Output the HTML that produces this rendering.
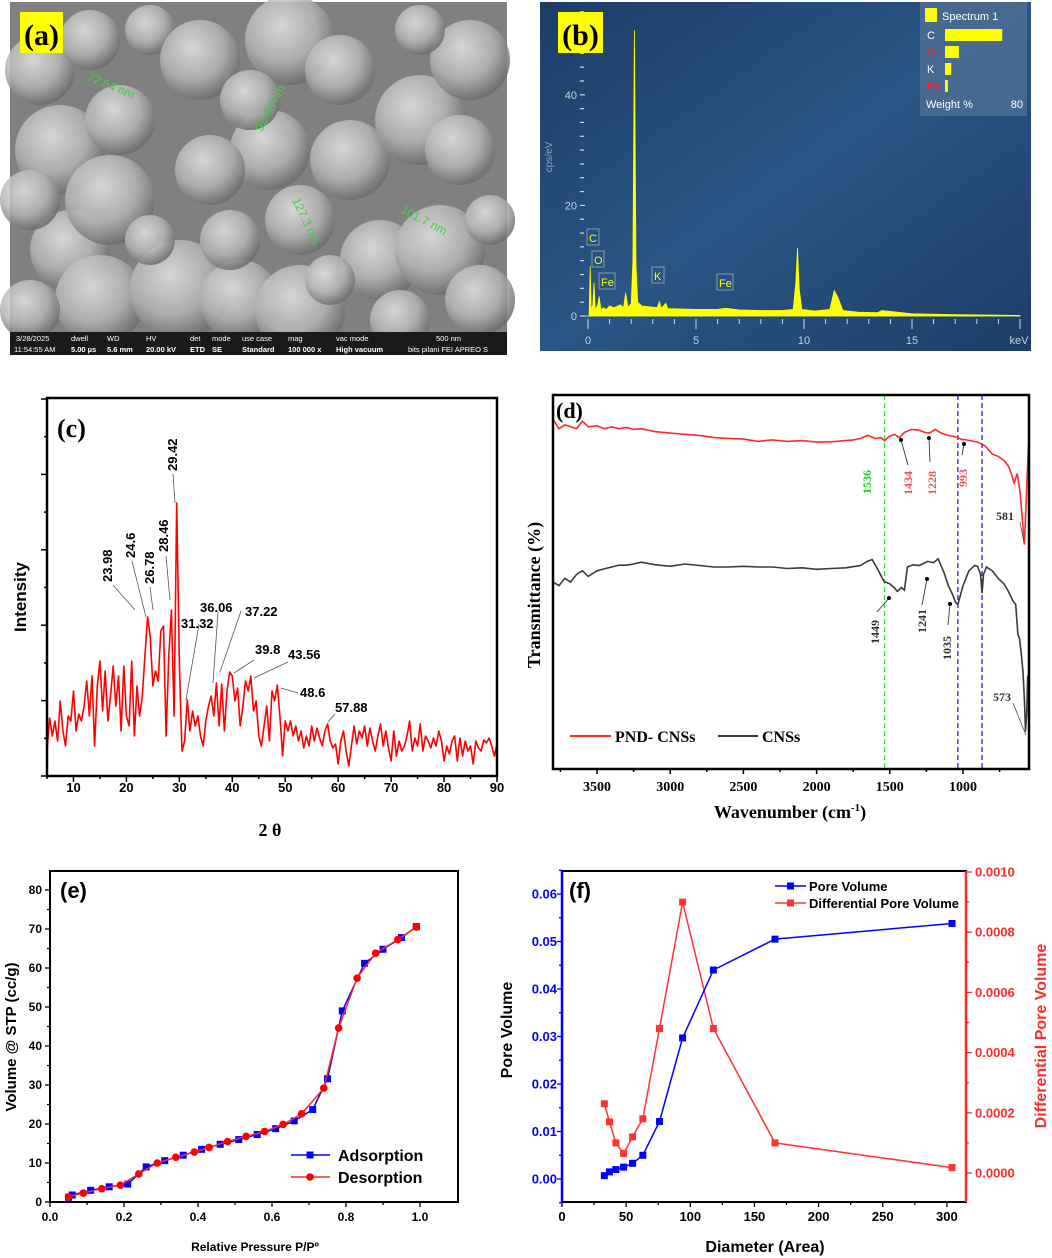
<!DOCTYPE html>
<html><head><meta charset="utf-8"><style>
html,body{margin:0;padding:0;background:#fff;}
svg{display:block;font-family:"Liberation Sans",Arial,sans-serif;}
.tm{font-family:"Liberation Serif","Times New Roman",serif;}
</style></head><body>
<svg id="fig" width="1052" height="1258" viewBox="0 0 1052 1258">
<defs>
<radialGradient id="blob" cx="40%" cy="35%" r="65%"><stop offset="0" stop-color="#e4e4e4"/><stop offset="0.6" stop-color="#b5b5b5"/><stop offset="1" stop-color="#6e6e6e"/></radialGradient>
<linearGradient id="edsbg" x1="0" y1="0" x2="1" y2="1"><stop offset="0" stop-color="#1d3d68"/><stop offset="0.5" stop-color="#2a5584"/><stop offset="1" stop-color="#1d3d68"/></linearGradient>
</defs>
<g id="sem">
<rect x="10" y="2" width="497" height="353" fill="#808080"/>
<g id="semblobs"></g>
<rect x="10" y="332" width="497" height="23" fill="#1a1a1a"/>
<g fill="#fff" font-size="7.5">
<text x="16" y="341">3/28/2025</text><text x="14" y="352">11:54:55 AM</text>
<text x="71" y="341">dwell</text><text x="71" y="352" font-weight="bold">5.00 µs</text>
<text x="107" y="341">WD</text><text x="107" y="352" font-weight="bold">5.6 mm</text>
<text x="146" y="341">HV</text><text x="146" y="352" font-weight="bold">20.00 kV</text>
<text x="190" y="341">det</text><text x="190" y="352" font-weight="bold">ETD</text>
<text x="212" y="341">mode</text><text x="212" y="352" font-weight="bold">SE</text>
<text x="242" y="341">use case</text><text x="242" y="352" font-weight="bold">Standard</text>
<text x="288" y="341">mag</text><text x="288" y="352" font-weight="bold">100 000 x</text>
<text x="336" y="341">vac mode</text><text x="336" y="352" font-weight="bold">High vacuum</text>
<text x="436" y="341">500 nm</text><text x="408" y="352">bits pilani FEI APREO S</text>
</g>
<g fill="#3ed13e" font-size="12">
<text transform="translate(86,80) rotate(22)">72.64 nm</text>
<text transform="translate(262,132) rotate(-62)">92.28 nm</text>
<text transform="translate(292,200) rotate(65)">127.3 nm</text>
<text transform="translate(400,212) rotate(28)">101.7 nm</text>
</g>
<rect x="20" y="12" width="43" height="41" fill="#ffff00"/>
<text x="41.5" y="45" text-anchor="middle" class="tm" font-size="30" font-weight="bold">(a)</text>
</g>
<g id="eds">
<rect x="540" y="2" width="491" height="349" fill="url(#edsbg)"/>
<g id="edsg"></g>
<rect x="558" y="12" width="45" height="41" fill="#ffff00"/>
<text x="580.5" y="45" text-anchor="middle" class="tm" font-size="30" font-weight="bold">(b)</text>
</g>
<g id="xrd"></g>
<g id="ftir"></g>
<g id="bet"></g>
<g id="pore"></g>
</svg>
<script>
// ---------- data ----------
const edsEnergy=[0,0.05,0.1,0.15,0.22,0.28,0.34,0.45,0.52,0.6,0.7,0.85,1.0,1.2,1.5,1.65,1.74,1.85,2.0,2.08,2.15,2.22,2.3,2.5,3.0,3.2,3.3,3.4,3.6,3.7,4.0,5,6,6.4,7,8,9,9.5,9.62,9.7,9.78,9.9,10.5,11.2,11.4,11.55,11.8,12.5,13.4,13.6,15,17,19,20];
const edsCounts=[0,0,9,1,2,6,1,2,3.5,1,1.5,1.2,1.8,1.5,2,1.5,4.2,1.6,2.2,10,51.7,9,2.5,1.8,1.6,1.5,2.6,1.4,2.3,1.3,1.3,1.2,1.2,1.4,1.1,1.0,1.0,1.2,6,12.3,5,1.2,0.9,1.2,4.6,3.5,1.0,0.7,0.6,1.0,0.4,0.25,0.15,0.1];
const edsElements=['C','O','K','Fe'];
const edsWeights=[65,14,5,1];
const edsTickLabels=['0','5','10','15'];

const xrdStart=5, xrdStep=0.5;
const xrdIntensity=[25,58,40,55,35,75,45,30,60,55,85,45,62,55,70,95,60,100,30,90,115,65,105,55,80,110,70,100,45,110,60,50,115,40,90,60,80,120,159,140,90,105,95,145,150,40,120,166,60,273,110,25,35,76,45,65,50,60,40,30,55,70,80,60,93,50,92,45,85,104,100,75,88,50,70,95,85,100,65,75,40,30,50,70,35,85,75,91,60,20,55,45,55,40,50,35,45,28,40,30,50,35,48,38,30,45,52,35,28,32,12,35,45,25,10,30,50,32,45,38,50,30,48,35,25,40,52,30,45,28,15,45,20,35,25,30,40,55,25,38,30,52,25,40,35,28,38,30,45,35,15,30,22,35,40,15,38,20,35,25,30,12,35,28,25,36,33,38,30,20,32];
const xrdTicks=[10,20,30,40,50,60,70,80,90];

const ftirWaveRed=[3800,3760,3720,3680,3640,3600,3560,3500,3450,3400,3350,3300,3250,3200,3100,3000,2900,2800,2700,2600,2500,2400,2350,2300,2200,2100,2000,1900,1800,1750,1700,1650,1600,1560,1536,1500,1470,1434,1400,1350,1300,1260,1228,1190,1150,1100,1050,1000,993,950,900,850,800,760,720,690,670,650,630,610,595,581,570,560,552];
const ftirRed=[93.5,91,92,91.5,91,93,91.5,91.8,91,91.5,91,91.3,90.8,91,90.2,89.8,89.5,89.2,88.6,88.4,88.2,87.6,87.8,88,87.6,87.8,87.4,87.5,87.8,88,88.4,89.2,88.4,88.6,87.8,89,89.5,88.6,90,90.8,90.6,90,89.8,90.8,89.8,89.2,88.8,88,88.1,87.8,87.4,86.4,84.2,83.6,82.5,81,79,76.5,79,74,67,60,70,80,87];
const ftirWaveBlack=[3800,3760,3720,3680,3640,3600,3560,3500,3450,3400,3350,3300,3250,3200,3100,3000,2900,2800,2700,2600,2500,2400,2300,2200,2100,2000,1900,1800,1700,1650,1620,1580,1540,1500,1470,1449,1420,1400,1380,1340,1300,1241,1200,1170,1130,1100,1070,1050,1035,1000,960,920,900,880,870,860,840,800,760,720,690,660,640,625,615,605,590,580,573,565,558];
const ftirBlack=[50,49,51,50,52,53,51.5,53,53.5,54,54.5,54.5,54.8,55.3,54.6,54.2,54.8,54.4,54,54,54.2,54,54,53.6,53.8,53.4,53.6,53.8,54.4,55.6,56,53.2,50.2,49.5,48.5,47.5,48.5,47.8,54,54.6,54.4,55.5,55.2,56.2,52.5,49,46.5,44.5,44,49,53,54.4,54.2,52,47,52,54,53,51,49.5,47.5,45,44,36,35,32,26,18,10,15,25];
const ftirTicks=[3500,3000,2500,2000,1500,1000];
const ftirGuides=[1536,1035,870];

const betAdsX=[0.05,0.06,0.11,0.16,0.21,0.26,0.31,0.36,0.41,0.46,0.51,0.56,0.61,0.66,0.71,0.75,0.79,0.85,0.9,0.95,0.99];
const betAdsY=[1.2,1.8,3,3.9,4.6,9,10.6,12,13.5,14.8,16,17.3,18.8,20.8,23.7,31.6,49,61.2,64.8,67.8,70.6];
const betDesX=[0.05,0.09,0.14,0.19,0.24,0.29,0.34,0.39,0.43,0.48,0.53,0.58,0.63,0.68,0.74,0.78,0.83,0.88,0.94,0.99];
const betDesY=[1.3,2.3,3.4,4.3,7.2,10,11.5,12.8,14,15.5,16.8,18.1,19.9,22.6,29.2,44.6,57.4,63.8,67.3,70.5];
const betXTicks=['0.0','0.2','0.4','0.6','0.8','1.0'];
const betYTicks=[0,10,20,30,40,50,60,70,80];

const poreDiam=[33,37,42,48,55,63,76,94,118,166,304];
const poreVol=[0.0007,0.0015,0.002,0.0025,0.0033,0.005,0.0121,0.0297,0.044,0.0505,0.0538];
const poreDiff=[0.00023,0.00017,0.0001,0.000065,0.00012,0.00018,0.00048,0.0009,0.00048,0.0001,0.000018];
const poreXTicks=[0,50,100,150,200,250,300];
const poreLeftTicks=['0.00','0.01','0.02','0.03','0.04','0.05','0.06'];
const poreRightTicks=['0.0000','0.0002','0.0004','0.0006','0.0008','0.0010'];

// ---------- helpers ----------
const svg=document.getElementById('fig');
const NS=svg.namespaceURI;
function mk(tag,parent,attrs){const e=document.createElementNS(NS,tag);for(const k in attrs)e.setAttribute(k,attrs[k]);parent.appendChild(e);return e;}
function pathFrom(xs,ys,fx,fy){let d='';for(let i=0;i<xs.length;i++){d+=(i?'L':'M')+fx(xs[i]).toFixed(1)+','+fy(ys[i]).toFixed(1);}return d;}

// ---------- SEM blobs (texture) ----------
(function(){
const g=document.getElementById('semblobs');
const blobs=[[40,70,35],[90,40,30],[150,30,25],[200,60,40],[60,150,45],[120,120,35],[70,250,40],[110,200,45],[100,300,45],[180,290,50],[240,300,40],[300,310,45],[290,40,45],[340,70,35],[270,150,40],[210,170,35],[350,160,40],[300,220,35],[230,240,30],[380,260,40],[420,120,45],[460,150,35],[470,60,40],[440,250,45],[480,300,35],[400,320,30],[150,240,25],[330,280,25],[250,100,30],[420,30,25],[490,220,25],[30,310,30],[30,200,30]];
blobs.forEach(b=>{
 const c=mk('circle',g,{cx:b[0],cy:b[1],r:b[2],fill:'url(#blob)','fill-opacity':0.85});
 
 
});
})();

// ---------- EDS ----------
(function(){
const g=document.getElementById('edsg');
const ex=v=>588+v*21.6, ey=v=>316-v*5.53;
const ax=mk('line',g,{x1:581,y1:316,x2:1020,y2:316,stroke:'#aab8cc','stroke-width':1});


for(let i=0;i<=20;i++){const t=mk('line',g,{x1:ex(i),y1:319,x2:ex(i),y2:i%5?324:329,stroke:'#d0d8e4','stroke-width':1});
 
 }
for(let i=0;i<=55;i+=2.5){const y=316-i*5.53;const t=mk('line',g,{x1:580,y1:y,x2:i%20==0?585:584,y2:y,stroke:'#d0d8e4','stroke-width':1.2});
 
 }
edsTickLabels.forEach((l,i)=>{const t=mk('text',g,{x:ex(i*5),y:344,fill:'#c6d0dd','font-size':11,'text-anchor':'middle'});t.textContent=l;
 
 });
const kev=mk('text',g,{x:1019,y:344,fill:'#c6d0dd','font-size':11,'text-anchor':'middle'});kev.textContent='keV';


[[0,'0'],[20,'20'],[40,'40']].forEach(p=>{const t=mk('text',g,{x:577,y:ey(p[0])+4,fill:'#c6d0dd','font-size':11,'text-anchor':'end'});t.textContent=p[1];
 
 });
const yt=mk('text',g,{transform:'translate(552,157) rotate(-90)',fill:'#8fa3bd','font-size':10,'text-anchor':'middle'});yt.textContent='cps/eV';


const sp=mk('path',g,{d:pathFrom(edsEnergy,edsCounts,ex,ey)+'L'+ex(20)+','+ey(0)+'L'+ex(0)+','+ey(0)+'Z',fill:'#ffff00',stroke:'#ffff00','stroke-width':0.8});


[['C',588,242],['O',593,264],['Fe',600,286],['K',653,280],['Fe',718,287]].forEach(p=>{
 const b=mk('rect',g,{x:p[1]-1,y:p[2]-13,width:p[0]=='Fe'?16:12,height:16,fill:'none',stroke:'#8899aa','stroke-width':1});
 
 
 const t=mk('text',g,{x:p[1]+1,y:p[2],fill:'#ffff00','font-size':11});t.textContent=p[0];
 
 });
const lb=mk('rect',g,{x:920,y:2,width:107,height:114,fill:'#4e6d92','fill-opacity':0.85});


const sw=mk('rect',g,{x:925,y:8,width:12,height:14,fill:'#ffff00'});


const st=mk('text',g,{x:942,y:20,fill:'#fff','font-size':11});st.textContent='Spectrum 1';


edsElements.forEach((e,i)=>{
 const y=35+i*17;
 const t=mk('text',g,{x:927,y:y+4,fill:(e=='O'||e=='Fe')?'#ff2020':'#fff','font-size':11});t.textContent=e;
 
 
 const bar=mk('rect',g,{x:945,y:y-6,width:edsWeights[i]*68/80+2,height:12,fill:'#ffff00'});
 
 });
const wt=mk('text',g,{x:926,y:108,fill:'#fff','font-size':11});wt.textContent='Weight %';


const w8=mk('text',g,{x:1023,y:108,fill:'#fff','font-size':11,'text-anchor':'end'});w8.textContent='80';


})();

// ---------- XRD ----------
(function(){
const g=document.getElementById('xrd');
const L=47,R=497,T=398,B=776;
const cx=v=>L+(v-5)*(R-L)/85, cy=v=>B-v;
const xs=xrdIntensity.map((v,i)=>xrdStart+i*xrdStep);
const ln=mk('path',g,{d:pathFrom(xs,xrdIntensity,cx,cy),fill:'none',stroke:'#ff0000','stroke-width':1.6,'stroke-linejoin':'round'});


const fr=mk('rect',g,{x:L,y:T,width:R-L,height:B-T,fill:'none',stroke:'#000','stroke-width':2.5});


for(let v=5;v<=90;v+=5){const t=mk('line',g,{x1:cx(v),y1:B,x2:cx(v),y2:B+(v%10?3:6),stroke:'#000','stroke-width':1.5});
 
 }
for(let i=0;i<=10;i++){const y=B-i*37.7;const t=mk('line',g,{x1:L-(i%2?3:6),y1:y,x2:L,y2:y,stroke:'#000','stroke-width':1.5});
 
 }
xrdTicks.forEach(v=>{const t=mk('text',g,{x:cx(v),y:792,'font-size':13,'font-weight':'bold','text-anchor':'middle'});t.textContent=v;
 
 });
const xt=mk('text',g,{x:270,y:836,'font-size':18,'font-weight':'bold','text-anchor':'middle',class:'tm'});xt.textContent='2 θ';


const yt=mk('text',g,{transform:'translate(26,597) rotate(-90)','font-size':17,'font-weight':'bold','text-anchor':'middle'});yt.textContent='Intensity';


const la=mk('text',g,{x:57,y:437,'font-size':26,'font-weight':'bold',class:'tm'});la.textContent='(c)';


[['23.98',107,582,113,585,135,610],['24.6',130,558,132,561,146,617],['26.78',149,584,150,587,153,610],['28.46',163,552,166,556,170,600],['29.42',172,471,173,474,175,503]].forEach(p=>{
 const t=mk('text',g,{transform:'translate('+(p[1]+5)+','+p[2]+') rotate(-90)','font-size':13,'font-weight':'bold'});t.textContent=p[0];
 
 
 const l=mk('line',g,{x1:p[3],y1:p[4],x2:p[5],y2:p[6],stroke:'#555','stroke-width':0.8});
 
 });
[['31.32',181,628,199,624,186,700],['36.06',200,612,218,612,213,683],['37.22',245,616,241,611,220,672],['39.8',255,654,254,660,234,673],['43.56',288,659,288,662,254,678],['48.6',300,697,298,693,281,688],['57.88',335,712,335,714,328,722]].forEach(p=>{
 const t=mk('text',g,{x:p[1],y:p[2],'font-size':13,'font-weight':'bold'});t.textContent=p[0];
 
 
 const l=mk('line',g,{x1:p[3],y1:p[4],x2:p[5],y2:p[6],stroke:'#555','stroke-width':0.8});
 
 });
})();

// ---------- FTIR ----------
(function(){
const g=document.getElementById('ftir');
const L=553,R=1029,T=395,B=769;
const fx=v=>963+(1000-v)*0.1464, fy=v=>B-v*3.74;
ftirGuides.forEach((w,i)=>{const l=mk('line',g,{x1:fx(w),y1:T,x2:fx(w),y2:B,stroke:i?'#1a1aff':'#33dd33','stroke-width':1.3,'stroke-dasharray':'5,3'});
 
 });
const r=mk('path',g,{d:pathFrom(ftirWaveRed,ftirRed,fx,fy),fill:'none',stroke:'#ff2a2a','stroke-width':1.6});


const k=mk('path',g,{d:pathFrom(ftirWaveBlack,ftirBlack,fx,fy),fill:'none',stroke:'#3a3a3a','stroke-width':1.6});


const fr=mk('rect',g,{x:L,y:T,width:R-L,height:B-T,fill:'none',stroke:'#000','stroke-width':2.5});


for(let w=3750;w>=600;w-=250){const t=mk('line',g,{x1:fx(w),y1:B,x2:fx(w),y2:B+(w%500?3:5),stroke:'#000','stroke-width':1.5});
 
 }
ftirTicks.forEach(w=>{const t=mk('text',g,{x:fx(w),y:791,'font-size':14,'font-weight':'bold','text-anchor':'middle',class:'tm'});t.textContent=w;
 
 });
const xt=mk('text',g,{x:790,y:818,'font-size':18,'font-weight':'bold','text-anchor':'middle',class:'tm'});
xt.innerHTML='Wavenumber (cm<tspan dy="-7" font-size="11">-1</tspan><tspan dy="7">)</tspan>';


const yt=mk('text',g,{transform:'translate(540,595) rotate(-90)','font-size':18,'font-weight':'bold','text-anchor':'middle',class:'tm'});yt.textContent='Transmittance (%)';


const la=mk('text',g,{x:556,y:418,'font-size':22,'font-weight':'bold',class:'tm'});la.textContent='(d)';


[['1536',867,482,'#22cc22'],['1434',908,483,'#ee5555'],['1228',932,483,'#ee5555'],['993',963,478,'#ee5555'],['1449',875,632,'#333'],['1241',922,621,'#333'],['1035',947,648,'#333']].forEach(p=>{
 const t=mk('text',g,{transform:'translate('+(p[1]+4)+','+p[2]+') rotate(-90)','font-size':12,'font-weight':'bold','text-anchor':'middle',fill:p[3],class:'tm'});t.textContent=p[0];
 
 });
[['581',996,520],['573',993,701]].forEach(p=>{const t=mk('text',g,{x:p[1],y:p[2],'font-size':12,'font-weight':'bold',fill:'#333',class:'tm'});t.textContent=p[0];
 
 });
[[908,465,901,440],[930,462,929,438],[962,455,964,444],[877,612,889,598],[922,605,927,579],[948,625,950,604]].forEach(p=>{
 const l=mk('line',g,{x1:p[0],y1:p[1],x2:p[2],y2:p[3],stroke:'#333','stroke-width':0.9});
 
 
 const a=mk('circle',g,{cx:p[2],cy:p[3],r:2,fill:'#000'});
 
 });
[[1020,522,1024,543],[1013,703,1026,735]].forEach(p=>{const l=mk('line',g,{x1:p[0],y1:p[1],x2:p[2],y2:p[3],stroke:'#555','stroke-width':0.8});
 
 });
const l1=mk('line',g,{x1:570,y1:736,x2:611,y2:736,stroke:'#ff2a2a','stroke-width':2});


const t1=mk('text',g,{x:615,y:742,'font-size':16,'font-weight':'bold',class:'tm'});t1.textContent='PND- CNSs';


const l2=mk('line',g,{x1:718,y1:736,x2:758,y2:736,stroke:'#3a3a3a','stroke-width':2});


const t2=mk('text',g,{x:762,y:742,'font-size':16,'font-weight':'bold',class:'tm'});t2.textContent='CNSs';


})();

// ---------- BET ----------
(function(){
const g=document.getElementById('bet');
const L=50,R=458,T=871,B=1202;
const bx=v=>L+v*370, by=v=>B-v*3.9;
const fr=mk('rect',g,{x:L,y:T,width:R-L,height:B-T,fill:'none',stroke:'#000','stroke-width':2});


for(let v=0;v<=1.05;v+=0.1){const t=mk('line',g,{x1:bx(v),y1:B,x2:bx(v),y2:B+(Math.round(v*10)%2?3:5),stroke:'#000','stroke-width':1.3});
 
 }
for(let v=0;v<=80;v+=5){const t=mk('line',g,{x1:L-(v%10?3:5),y1:by(v),x2:L,y2:by(v),stroke:'#000','stroke-width':1.3});
 
 }
betXTicks.forEach(s=>{const t=mk('text',g,{x:bx(parseFloat(s)),y:1221,'font-size':12,'font-weight':'bold','text-anchor':'middle'});t.textContent=s;
 
 });
betYTicks.forEach(v=>{const t=mk('text',g,{x:42,y:by(v)+4,'font-size':12,'font-weight':'bold','text-anchor':'end'});t.textContent=v;
 
 });
const xt=mk('text',g,{x:255,y:1251,'font-size':12,'font-weight':'bold','text-anchor':'middle'});xt.textContent='Relative Pressure P/Pº';


const yt=mk('text',g,{transform:'translate(16,1037) rotate(-90)','font-size':15,'font-weight':'bold','text-anchor':'middle'});yt.textContent='Volume  @ STP (cc/g)';


const la=mk('text',g,{x:60,y:898,'font-size':22,'font-weight':'bold'});la.textContent='(e)';


const a=mk('path',g,{d:pathFrom(betAdsX,betAdsY,bx,by),fill:'none',stroke:'#0000ff','stroke-width':1.5});


betAdsX.forEach((x,i)=>{const m=mk('rect',g,{x:bx(x)-3.5,y:by(betAdsY[i])-3.5,width:7,height:7,fill:'#0000ff'});
 
 });
const d=mk('path',g,{d:pathFrom(betDesX,betDesY,bx,by),fill:'none',stroke:'#ff2a2a','stroke-width':1.5});


betDesX.forEach((x,i)=>{const m=mk('circle',g,{cx:bx(x),cy:by(betDesY[i]),r:3.8,fill:'#ff0000'});
 
 });
const l1=mk('line',g,{x1:291,y1:1155,x2:330,y2:1155,stroke:'#0000ff','stroke-width':1.5});


const m1=mk('rect',g,{x:306.5,y:1151.5,width:7,height:7,fill:'#0000ff'});


const t1=mk('text',g,{x:338,y:1161,'font-size':16,'font-weight':'bold'});t1.textContent='Adsorption';


const l2=mk('line',g,{x1:291,y1:1177,x2:330,y2:1177,stroke:'#ff2a2a','stroke-width':1.5});


const m2=mk('circle',g,{cx:310,cy:1177,r:3.8,fill:'#ff0000'});


const t2=mk('text',g,{x:338,y:1183,'font-size':16,'font-weight':'bold'});t2.textContent='Desorption';


})();

// ---------- Pore ----------
(function(){
const g=document.getElementById('pore');
const L=562,R=966,T=871,B=1202;
const px=v=>L+v*1.283, py=v=>1179-v*4750, pr=v=>1173-v*301000;
const fr=mk('rect',g,{x:L,y:T,width:R-L,height:B-T,fill:'none',stroke:'#000','stroke-width':2});


const la=mk('line',g,{x1:L,y1:T,x2:L,y2:B,stroke:'#0000ff','stroke-width':2.5});


const ra=mk('line',g,{x1:R,y1:T,x2:R,y2:B,stroke:'#ff2a2a','stroke-width':2.5});


for(let v=0;v<=300;v+=25){const t=mk('line',g,{x1:px(v),y1:B,x2:px(v),y2:B+(v%50?3:5),stroke:'#000','stroke-width':1.3});
 
 }
poreXTicks.forEach(v=>{const t=mk('text',g,{x:px(v),y:1221,'font-size':13,'font-weight':'bold','text-anchor':'middle'});t.textContent=v;
 
 });
for(let i=-1;i<=13;i++){const v=i*0.005;const t=mk('line',g,{x1:L-(i%2?3:5),y1:py(v),x2:L,y2:py(v),stroke:'#0000ff','stroke-width':1.3});
 
 }
poreLeftTicks.forEach(s=>{const t=mk('text',g,{x:557,y:py(parseFloat(s))+4.5,'font-size':13,'font-weight':'bold','text-anchor':'end',fill:'#0000ff'});t.textContent=s;
 
 });
for(let i=0;i<=10;i++){const v=i*0.0001;const t=mk('line',g,{x1:R,y1:pr(v),x2:R+(i%2?3:6),y2:pr(v),stroke:'#ff2a2a','stroke-width':1.3});
 
 }
poreRightTicks.forEach(s=>{const t=mk('text',g,{x:975,y:pr(parseFloat(s))+4.5,'font-size':13,'font-weight':'bold',fill:'#ff2a2a'});t.textContent=s;
 
 });
const xt=mk('text',g,{x:765,y:1252,'font-size':16,'font-weight':'bold','text-anchor':'middle'});xt.textContent='Diameter (Area)';


const yl=mk('text',g,{transform:'translate(512,1030) rotate(-90)','font-size':16,'font-weight':'bold','text-anchor':'middle'});yl.textContent='Pore  Volume';


const yr=mk('text',g,{transform:'translate(1046,1036) rotate(-90)','font-size':16,'font-weight':'bold','text-anchor':'middle',fill:'#ff2a2a'});yr.textContent='Differential Pore Volume';


const lf=mk('text',g,{x:569,y:898,'font-size':22,'font-weight':'bold'});lf.textContent='(f)';


const rd=mk('path',g,{d:pathFrom(poreDiam,poreDiff,px,pr),fill:'none',stroke:'#ff3333','stroke-width':1.5});


poreDiam.forEach((x,i)=>{const m=mk('rect',g,{x:px(x)-3.5,y:pr(poreDiff[i])-3.5,width:7,height:7,fill:'#ff3333'});
 
 });
const bl=mk('path',g,{d:pathFrom(poreDiam,poreVol,px,py),fill:'none',stroke:'#0000ff','stroke-width':1.5});


poreDiam.forEach((x,i)=>{const m=mk('rect',g,{x:px(x)-3.5,y:py(poreVol[i])-3.5,width:7,height:7,fill:'#0000ff'});
 
 });
const l1=mk('line',g,{x1:775,y1:886,x2:806,y2:886,stroke:'#0000ff','stroke-width':1.5});


const m1=mk('rect',g,{x:787,y:882.5,width:7,height:7,fill:'#0000ff'});


const t1=mk('text',g,{x:809,y:891,'font-size':13,'font-weight':'bold'});t1.textContent='Pore  Volume';


const l2=mk('line',g,{x1:775,y1:903,x2:806,y2:903,stroke:'#ff3333','stroke-width':1.5});


const m2=mk('rect',g,{x:787,y:899.5,width:7,height:7,fill:'#ff3333'});


const t2=mk('text',g,{x:809,y:908,'font-size':13,'font-weight':'bold'});t2.textContent='Differential Pore Volume';


})();
</script>
</body></html>
